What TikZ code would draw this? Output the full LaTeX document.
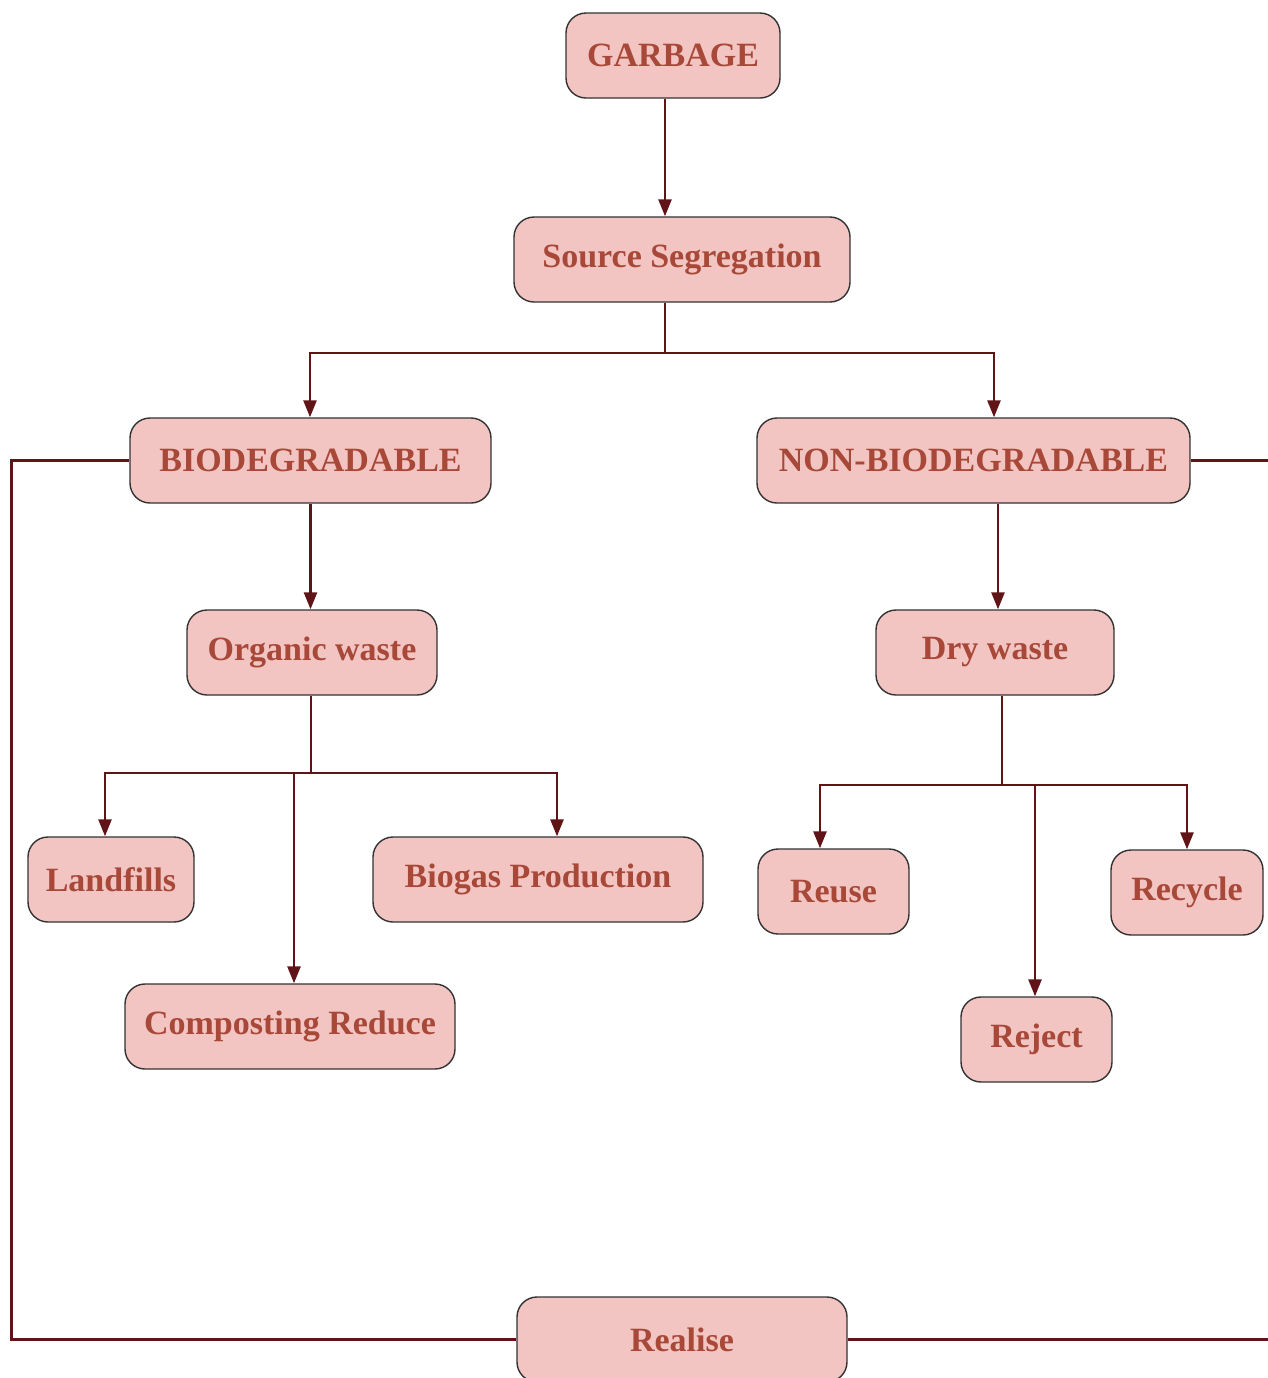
\documentclass[tikz,border=0pt]{standalone}
\usepackage{fontspec}
\setmainfont{Liberation Serif}
\definecolor{F}{RGB}{242,196,194}
\definecolor{T}{RGB}{168,72,56}
\definecolor{L}{RGB}{96,20,24}
\definecolor{B}{RGB}{51,51,51}
\usetikzlibrary{arrows.meta}
\tikzstyle{base}=[x=0.5pt, y=-0.5pt]
\tikzstyle{box}=[draw=B, fill=F, text=T, rounded corners=10pt, line width=0.7pt,
    minimum height=42.5pt, inner sep=0pt, font=\bfseries\fontsize{17}{20}\selectfont]
\tikzstyle{wire}=[draw=L, line width=1.3pt]
\tikzstyle{arr}=[wire, -{Triangle[length=8.5pt,width=6.5pt]}]
\begin{document}
\begin{tikzpicture}[base]
    \useasboundingbox (0,0) rectangle (1268,1378);
    % boxes
    \node [box, minimum width=107pt] (garbage) at (673,55.5) {GARBAGE};
    \node [box, minimum width=168pt] (source) at (682,259.5) {Source Segregation};
    \node [box, minimum width=180.5pt] (bio) at (310.5,460.5) {BIODEGRADABLE};
    \node [box, minimum width=216.5pt] (non) at (973.5,460.5) {NON-BIODEGRADABLE};
    \node [box, minimum width=125pt] (organic) at (312,652.5) {Organic waste};
    \node [box, minimum width=119pt] (dry) at (995,652.5) {Dry waste};
    \node [box, minimum width=83pt] (landfill) at (111,879.5) {Landfills};
    \node [box, minimum width=165pt] (biogas) at (538,879.5) {Biogas Production};
    \node [box, minimum width=165pt] (compost) at (290,1026.5) {Composting Reduce};
    \node [box, minimum width=75.5pt] (reuse) at (833.5,891.5) {Reuse};
    \node [box, minimum width=76pt] (recycle) at (1187,892.5) {Recycle};
    \node [box, minimum width=75.5pt] (reject) at (1036.5,1039.5) {Reject};
    \node [box, minimum width=165pt] (realise) at (682,1339.5) {Realise};
    % junctions
    \coordinate (j1) at (665,353);
    \coordinate (j2) at (311,773);
    \coordinate (j3) at (1002,785);
    % connectors
    \draw [arr] ([xshift=-4pt]garbage.south) -- ([xshift=-4pt]garbage.south |- source.north);
    \draw [wire] (source.south -| j1) -- (j1);
    \draw [arr] (j1) -| ([xshift=-0.25pt]bio.north);
    \draw [arr] (j1) -| ([xshift=10.25pt]non.north);
    \draw [arr] (bio.south) -- (bio.south |- organic.north);
    \draw [arr] ([xshift=1.5pt]dry.north |- non.south) -- ([xshift=1.5pt]dry.north);
    \draw [wire] (organic.south -| j2) -- (j2);
    \draw [arr] (j2) -| ([xshift=-3pt]landfill.north);
    \draw [arr] (j2) -| ([xshift=9.5pt]biogas.north);
    \draw [arr] ([xshift=2pt]compost.north |- j2) -- ([xshift=2pt]compost.north);
    \draw [wire] (dry.south -| j3) -- (j3);
    \draw [arr] (j3) -| ([xshift=-6.75pt]reuse.north);
    \draw [arr] (j3) -| (recycle.north);
    \draw [arr] ([xshift=-0.75pt]reject.north |- j3) -- ([xshift=-0.75pt]reject.north);
    \draw [wire] (bio.west) -- ++(-118,0) |- (realise.west);
    \draw [wire] (non.east) -- ++(78,0);
    \draw [wire] (realise.east) -- ++(421,0);
\end{tikzpicture}
\end{document}
